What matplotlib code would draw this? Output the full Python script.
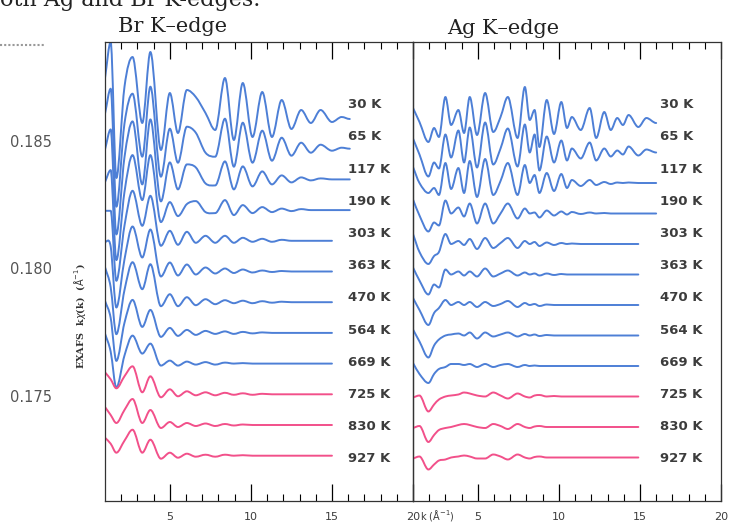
import numpy as np
import matplotlib.pyplot as plt
from matplotlib.path import Path
from matplotlib.patches import PathPatch

nan = np.nan

temps = ['30 K', '65 K', '117 K', '190 K', '303 K', '363 K',
         '470 K', '564 K', '669 K', '725 K', '830 K', '927 K']

# Br K-edge: k points (1/A) and k*chi(k) (arbitrary units)
k_br = [1.0, 1.35, 1.7, 2.2, 2.7, 3.3, 3.8, 4.45, 5.0, 5.5, 6.05, 6.6, 7.2, 7.8,
        8.4, 8.95, 9.5, 10.1, 10.7, 11.3, 11.9, 12.5, 13.1, 13.7, 14.3, 15.0, 15.6, 16.1]
br_30 = [40, 76, -60, 31, 61, -5, 66, -32, 25, -15, 28, 21, 5, -12,
         40, -22, 35, -19, 26, -19, 18, -11, 8, -5, 8, -4, 1, -1]
br_65 = [35, 60, -58, 25, 55, -8, 62, -28, 20, -14, 22, 16, -4, -8,
         30, -18, 26, -14, 18, -12, 11, -7, 6, -4, 4, -2, 1, 0]
br_117 = [30, 50, -55, 22, 58, -5, 60, -22, 17, -10, 15, 12, -4, -6,
          18, -10, 13, -7, 8, -5, 4, -3, 2, -1, 1, 0, 0, 0]
br_190 = [28, 40, -50, 18, 55, 10, 55, -12, 8, -6, 6, 9, -2, -3,
          10, -5, 5, -3, 3, -2, 1.5, -1, 1, 0, 0, 0, 0, 0]
br_303 = [30, 30, -40, 15, 50, 15, 45, -5, 10, -4, 9, -2, 5, -2,
          5, -2, 3, -1, 2, -1, 1, 0, 0, 0, 0, 0, nan, nan]
br_363 = [30, 25, -36, 12, 45, 14, 42, -5, 9, -4, 7, -3, 4, -2,
          3, -1.5, 2, -1, 1, -0.5, 0.5, 0, 0, 0, 0, 0, nan, nan]
br_470 = [35, 15, -32, 12, 40, 13, 38, -4, 8, -4, 5, -3, 3, -2,
          2, -1, 1.5, -1, 1, -0.5, 0.5, 0, 0, 0, 0, 0, nan, nan]
br_564 = [32, 15, -28, 10, 33, 6, 23, -4, 5, -3, 3, -2, 2, -1,
          1.5, -1, 1, -0.5, 0.5, 0, 0, 0, 0, 0, 0, 0, nan, nan]
br_669 = [30, 12, -24, 8, 28, 10, 20, -2, 3, -2, 2, -1, 1.5, -1,
          1, 0, 0.5, 0, 0, 0, 0, 0, 0, 0, 0, 0, nan, nan]
br_725 = [22, 15, 6, 18, 28, 2, 18, -3, 5, -2, 3, -1, 2, -1,
          1.5, -0.5, 1, -0.5, 0.5, 0, 0, 0, 0, 0, 0, 0, nan, nan]
br_830 = [18, 10, 2, 15, 26, 2, 15, -3, 3, -2, 2, -1, 1.5, -1,
          1, -0.5, 0.5, 0, 0, 0, 0, 0, 0, 0, 0, 0, nan, nan]
br_927 = [18, 12, 3, 15, 26, 3, 16, -3, 3, -2, 2, -1, 1, -1,
          1, 0, 0.5, 0, 0, 0, 0, 0, 0, 0, 0, 0, nan, nan]

# Ag K-edge
k_ag = [1.0, 1.4, 1.95, 2.3, 2.6, 3.0, 3.35, 3.8, 4.15, 4.5, 4.95, 5.45, 5.95, 6.4,
        6.85, 7.45, 7.9, 8.2, 8.5, 8.8, 9.25, 9.7, 10.15, 10.5, 10.8, 11.35, 11.9, 12.3,
        12.8, 13.2, 13.6, 13.95, 14.3, 14.9, 15.4, 16.0]
ag_30 = [14, 0, -20, -6, -15, 25, -3, 12, -11, 25, -13, 29, -10, 5,
         25, -16, 35, 2, 12, -25, 22, -12, 20, -6, 5, -8, 14, -16,
         10, -8, 4, -3, 7, -5, 4, -1]
ag_65 = [14, -2, -24, -10, -16, 18, -5, 22, -10, 25, -15, 30, -12, 4,
         24, -14, 28, 0, 18, -18, 16, -10, 12, -8, 4, -6, 10, -8,
         4, -4, 2, -2, 6, -3, 3, 0]
ag_117 = [16, 0, -10, -5, -12, 20, -6, 15, -10, 22, -14, 24, -12, 2,
          20, -12, 18, 0, 8, -10, 10, -8, 9, -5, 3, -3, 3, -2,
          1, -1, 0.5, 0, 0.5, 0, 0, 0]
ag_190 = [14, -2, -18, -9, -12, 13, 0, 6, -3, 10, -10, 10, -10, 0,
          10, -5, 5, 0, 1, -4, 3, -2, 2, -1, 1.5, -0.5, 1, 0,
          0.5, 0, 0, 0, 0, 0, 0, 0]
ag_303 = [10, -8, -20, -12, -8, 10, 0, 3, -1, 5, -5, 6, -4, 1,
          6, -4, 3, 0, 2, -2, 1.5, -1, 1, 0, 0.5, 0, 0, 0,
          0, 0, 0, 0, 0, 0, nan, nan]
ag_363 = [7, -6, -20, -10, -13, 5, 0, 3, -1, 3, -2, 6, -2, 1,
          4, -1, 2, 0, 1, -1, 1, -0.5, 0.5, 0, 0, 0, 0, 0,
          0, 0, 0, 0, 0, 0, nan, nan]
ag_470 = [7, -5, -20, -8, -3, 5, 0, 3, 0, 3, -2, 3, -1, 1,
          4, -2, 2, 0, 1, -1, 0.5, 0, 0, 0, 0, 0, 0, 0,
          0, 0, 0, 0, 0, 0, nan, nan]
ag_564 = [6, -6, -22, -10, -4, 0, 1, 2, 0, 3, -3, 3, -1, 1,
          3, -1, 1.5, 0, 1, -0.5, 0.5, 0, 0, 0, 0, 0, 0, 0,
          0, 0, 0, 0, 0, 0, nan, nan]
ag_669 = [3, -8, -17, -8, -3, -1, 2, 2, 1, 2, -1, 2, -1, 1,
          2, -1, 1, 0, 0.5, 0, 0, 0, 0, 0, 0, 0, 0, 0,
          0, 0, 0, 0, 0, 0, nan, nan]
ag_725 = [-1, 1, -15, -8, -3, 0, 1, 2, 4, 3, 1, 0, 4, 1,
          -2, 3, 0, -1, 1, 1.5, 0, 0.5, 0, 0, 0, 0, 0, 0,
          0, 0, 0, 0, 0, 0, nan, nan]
ag_830 = [-1, 1, -15, -8, -3, -1, 0, 2, 3, 2, 0, -1, 3, 1,
          -2, 3, 0, -1, 0.5, 1, 0, 0, 0, 0, 0, 0, 0, 0,
          0, 0, 0, 0, 0, 0, nan, nan]
ag_927 = [-1, 1, -12, -7, -3, -2, 0, 1, 2, 1, -1, -1, 3, 1,
          -2, 3, 0, -1, 0.5, 1, 0, 0, 0, 0, 0, 0, 0, 0,
          0, 0, 0, 0, 0, 0, nan, nan]

br_curves = [br_30, br_65, br_117, br_190, br_303, br_363,
             br_470, br_564, br_669, br_725, br_830, br_927]
ag_curves = [ag_30, ag_65, ag_117, ag_190, ag_303, ag_363,
             ag_470, ag_564, ag_669, ag_725, ag_830, ag_927]

W, H = 731, 524
blue = '#4d7fd6'
pink = '#f2508a'
txt = '#3c3c3c'


def fx(px):
    return px / W


def fy(py):
    return 1 - py / H


def smooth_line(ax, k, vals, shift, color):
    # draw a smooth (Bezier) line through the read points
    k = np.asarray(k, dtype=float)
    v = np.asarray(vals, dtype=float)
    ok = ~np.isnan(v)
    x, y = k[ok], v[ok] - shift
    n = len(x)
    m = np.zeros(n)
    for i in range(1, n - 1):
        if (y[i] - y[i - 1]) * (y[i + 1] - y[i]) > 0:
            m[i] = (y[i + 1] - y[i - 1]) / (x[i + 1] - x[i - 1])
    m[0] = (y[1] - y[0]) / (x[1] - x[0])
    verts = [(x[0], y[0])]
    codes = [Path.MOVETO]
    for i in range(n - 1):
        h = (x[i + 1] - x[i]) / 3
        verts += [(x[i] + h, y[i] + m[i] * h),
                  (x[i + 1] - h, y[i + 1] - m[i + 1] * h),
                  (x[i + 1], y[i + 1])]
        codes += [Path.CURVE4] * 3
    ax.add_patch(PathPatch(Path(verts, codes), fill=False, edgecolor=color,
                           lw=1.4, joinstyle='round', capstyle='round'))


fig = plt.figure(figsize=(W / 100, H / 100), dpi=100)

top, bot = 42, 501
ax_br = fig.add_axes([fx(105), fy(bot), (413 - 105) / W, (bot - top) / H])
ax_ag = fig.add_axes([fx(413), fy(bot), (721 - 413) / W, (bot - top) / H])


def draw_panel(ax, k, curves, base, step):
    for i, vals in enumerate(curves):
        smooth_line(ax, k, vals, i * step, blue if i < 9 else pink)
    # data units = pixels, 30 K tail at pixel row `base`
    ax.set_ylim(-(bot - base), base - top)
    ax.set_xlim(1, 20)
    ax.set_xticks([5, 10, 15, 20])
    ax.set_xticks(range(2, 20), minor=True)
    ax.set_yticks([])
    ax.tick_params(axis='x', which='major', direction='in', length=12, width=0.9,
                   top=True, labelsize=8, labelcolor=txt, pad=8)
    ax.tick_params(axis='x', which='minor', direction='in', length=5, width=0.8, top=True)
    ax.patch.set_alpha(0)
    for s in ax.spines.values():
        s.set_linewidth(0.9)
        s.set_color('#333333')


draw_panel(ax_br, k_br, br_curves, 118, 30.7)
draw_panel(ax_ag, k_ag, ag_curves, 122, 30.5)

# temperature labels
for i, t in enumerate(temps):
    fig.text(fx(348), fy(104.7 + i * 32.2), t, fontsize=9.5, color=txt,
             va='center', ha='left', fontweight='bold')
    fig.text(fx(660), fy(104.7 + i * 32.2), t, fontsize=9.5, color=txt,
             va='center', ha='left', fontweight='bold')

# panel titles
fig.text(fx(118), fy(26), 'Br K\u2013edge', fontsize=15, family='DejaVu Serif',
         color='#222222', va='center', ha='left')
fig.text(fx(447), fy(28), 'Ag K\u2013edge', fontsize=15, family='DejaVu Serif',
         color='#222222', va='center', ha='left')

# caption line cut off at the very top of the scan
fig.text(fx(0), fy(6), 'oth Ag and Br K-edges.', fontsize=16, family='DejaVu Serif',
         color='#222222', va='baseline', ha='left')
fig.add_artist(plt.Line2D([0, fx(45)], [fy(45), fy(45)], color='#999999',
                          lw=1.5, ls=(0, (1, 1))))

# y label and stray scale numbers on the left
fig.text(fx(80), fy(316), r'EXAFS  k$\chi$(k)  ($\mathrm{\AA}^{-1}$)', rotation=90,
         fontsize=7, fontweight='bold', family='DejaVu Serif', color='#333333',
         va='center', ha='center')
for val, py in [('0.185', 143), ('0.180', 270), ('0.175', 397)]:
    fig.text(fx(10), fy(py), val, fontsize=10.5, color='#555555', va='center', ha='left')

# k axis label
fig.text(fx(420), fy(508), r'k ($\mathrm{\AA}^{-1}$)', fontsize=7, color=txt,
         va='top', ha='left')

fig.savefig('out.png', dpi=100)
